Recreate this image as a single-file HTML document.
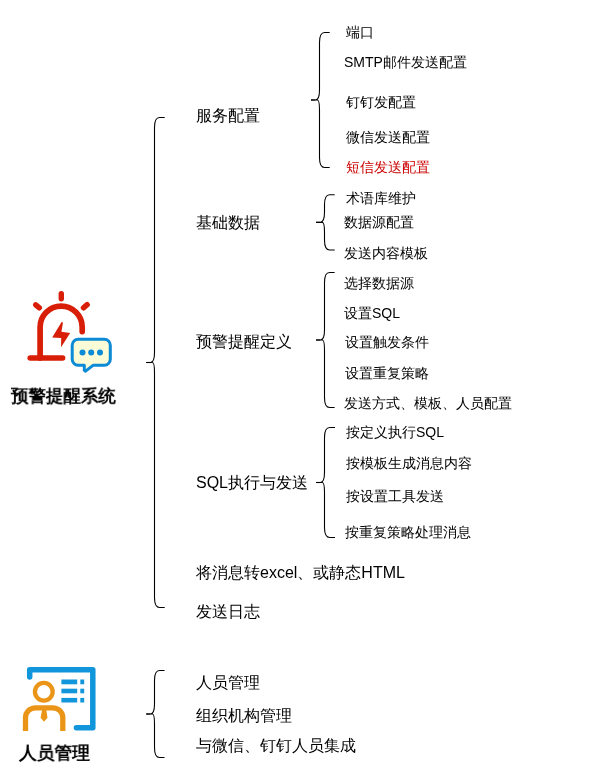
<!DOCTYPE html>
<html><head><meta charset="utf-8"><style>
html,body{margin:0;padding:0;background:#fff;width:608px;height:771px;overflow:hidden}
body{position:relative;font-family:"Liberation Sans",sans-serif}
.t{position:absolute;white-space:nowrap;will-change:transform}
svg{position:absolute;left:0;top:0}
</style></head><body>
<svg width="608" height="771" viewBox="0 0 608 771">
<g fill="none" stroke="#000" stroke-width="1.1">
<path d="M164.7,117.5 L159.6,117.5 Q154.5,117.5 154.5,127.5 L154.5,352.5 Q154.5,362.5 150.35,362.5 L146.2,362.5 L152.425,362.5 Q154.5,362.5 154.5,372.5 L154.5,597.5 Q154.5,607.5 159.6,607.5 L164.7,607.5"/><path d="M146.2,362.5 L150.35,362.5"/>
<path d="M329.7,32.5 L324.6,32.5 Q319.5,32.5 319.5,42.5 L319.5,90.0 Q319.5,100.0 315.25,100.0 L311.0,100.0 L317.375,100.0 Q319.5,100.0 319.5,110.0 L319.5,157.5 Q319.5,167.5 324.6,167.5 L329.7,167.5"/><path d="M311.0,100.0 L315.25,100.0"/>
<path d="M334.7,194.7 L329.6,194.7 Q324.5,194.7 324.5,204.7 L324.5,212.35 Q324.5,222.35 320.25,222.35 L316.0,222.35 L322.375,222.35 Q324.5,222.35 324.5,232.35 L324.5,240.0 Q324.5,250.0 329.6,250.0 L334.7,250.0"/><path d="M316.0,222.35 L320.25,222.35"/>
<path d="M334.6,272.5 L329.55,272.5 Q324.5,272.5 324.5,282.5 L324.5,330.0 Q324.5,340.0 320.25,340.0 L316.0,340.0 L322.375,340.0 Q324.5,340.0 324.5,350.0 L324.5,397.5 Q324.5,407.5 329.55,407.5 L334.6,407.5"/><path d="M316.0,340.0 L320.25,340.0"/>
<path d="M335.0,427.5 L329.75,427.5 Q324.5,427.5 324.5,437.5 L324.5,472.5 Q324.5,482.5 320.25,482.5 L316.0,482.5 L322.375,482.5 Q324.5,482.5 324.5,492.5 L324.5,527.5 Q324.5,537.5 329.75,537.5 L335.0,537.5"/><path d="M316.0,482.5 L320.25,482.5"/>
<path d="M164.5,670.5 L159.5,670.5 Q154.5,670.5 154.5,680.5 L154.5,704.0 Q154.5,714.0 150.35,714.0 L146.2,714.0 L152.425,714.0 Q154.5,714.0 154.5,724.0 L154.5,747.5 Q154.5,757.5 159.5,757.5 L164.5,757.5"/><path d="M146.2,714.0 L150.35,714.0"/>
</g>

<g fill="none" stroke="#d81e06" stroke-linecap="round" stroke-width="5.4">
  <line x1="61.3" y1="293.8" x2="61.3" y2="298.7"/>
  <line x1="35.75" y1="304.85" x2="39.35" y2="307.85"/>
  <line x1="87.15" y1="304.65" x2="83.45" y2="307.85"/>
  <path d="M40.1,358 L40.1,327.1 A21.05,21.05 0 0 1 82.2,327.1 L82.2,331.6" stroke-width="5.7"/>
  <line x1="30.2" y1="358" x2="62.6" y2="358" stroke-width="5.6"/>
</g>
<path fill="#d81e06" d="M61.6,322.0 L63.0,322.6 L61.4,331.7 L70.2,332.9 L61,347.2 L61.2,338.1 L52.2,337.6 Z"/>
<g>
  <path d="M78.2,339.3 H104.3 A6,6 0 0 1 110.3,345.3 V359.3 A6,6 0 0 1 104.3,365.3 H93 L85.6,371.2 L84.3,370.2 L84.3,365.3 H78.2 A6,6 0 0 1 72.2,359.3 V345.3 A6,6 0 0 1 78.2,339.3 Z" fill="#f9fcd6" stroke="#0b8ad6" stroke-width="3" stroke-linejoin="round"/>
  <circle cx="82.5" cy="352.4" r="3" fill="#0b8ad6"/>
  <circle cx="91.2" cy="352.4" r="3" fill="#0b8ad6"/>
  <circle cx="100" cy="352.4" r="3" fill="#0b8ad6"/>
</g>


<g fill="none" stroke="#1296db" stroke-width="5.5" stroke-linecap="round" stroke-linejoin="round">
  <path d="M29.7,677 V669.7 H92.8 V727.8 H76.4"/>
</g>
<g fill="#1296db">
  <rect x="61.4" y="679.5" width="15.8" height="4.8"/>
  <rect x="80.3" y="679.5" width="3.9" height="4.8"/>
  <rect x="61.4" y="688.7" width="15.8" height="4.6"/>
  <rect x="80.3" y="688.7" width="3.9" height="4.6"/>
  <rect x="61.4" y="697.9" width="15.8" height="4.6"/>
  <rect x="80.3" y="697.9" width="3.9" height="4.6"/>
</g>
<circle cx="43.8" cy="691.8" r="8.85" fill="none" stroke="#ea9518" stroke-width="4.3"/>
<path d="M25.5,731 V717.8 A10,10 0 0 1 35.5,707.8 H52.8 A10,10 0 0 1 62.8,717.8 V731" fill="none" stroke="#ea9518" stroke-width="5.3"/>
<path d="M42.2,709.5 H46.2 L47.5,717.7 L44,721.8 L40.6,717.7 Z" fill="#ea9518"/>

</svg>
<div class="t" style="left:196px;top:104.5px;font-size:16px;line-height:22px;color:#000;font-weight:normal;">服务配置</div>
<div class="t" style="left:196px;top:212.1px;font-size:16px;line-height:22px;color:#000;font-weight:normal;">基础数据</div>
<div class="t" style="left:196px;top:330.5px;font-size:16px;line-height:22px;color:#000;font-weight:normal;">预警提醒定义</div>
<div class="t" style="left:196px;top:471.5px;font-size:16px;line-height:22px;color:#000;font-weight:normal;">SQL执行与发送</div>
<div class="t" style="left:196px;top:562.0px;font-size:16px;line-height:22px;color:#000;font-weight:normal;">将消息转excel、或静态HTML</div>
<div class="t" style="left:196px;top:601.4px;font-size:16px;line-height:22px;color:#000;font-weight:normal;">发送日志</div>
<div class="t" style="left:196px;top:672.1px;font-size:16px;line-height:22px;color:#000;font-weight:normal;">人员管理</div>
<div class="t" style="left:196px;top:704.5px;font-size:16px;line-height:22px;color:#000;font-weight:normal;">组织机构管理</div>
<div class="t" style="left:196px;top:735.2px;font-size:16px;line-height:22px;color:#000;font-weight:normal;">与微信、钉钉人员集成</div>
<div class="t" style="left:346px;top:22.1px;font-size:14px;line-height:20px;color:#000;font-weight:normal;">端口</div>
<div class="t" style="left:343.5px;top:52.0px;font-size:14px;line-height:20px;color:#000;font-weight:normal;">SMTP邮件发送配置</div>
<div class="t" style="left:346px;top:92.0px;font-size:14px;line-height:20px;color:#000;font-weight:normal;">钉钉发配置</div>
<div class="t" style="left:346px;top:127.0px;font-size:14px;line-height:20px;color:#000;font-weight:normal;">微信发送配置</div>
<div class="t" style="left:345.5px;top:156.9px;font-size:14px;line-height:20px;color:#cc0000;font-weight:normal;">短信发送配置</div>
<div class="t" style="left:345.5px;top:187.6px;font-size:14px;line-height:20px;color:#000;font-weight:normal;">术语库维护</div>
<div class="t" style="left:343.5px;top:212.2px;font-size:14px;line-height:20px;color:#000;font-weight:normal;">数据源配置</div>
<div class="t" style="left:344px;top:243.1px;font-size:14px;line-height:20px;color:#000;font-weight:normal;">发送内容模板</div>
<div class="t" style="left:344px;top:272.6px;font-size:14px;line-height:20px;color:#000;font-weight:normal;">选择数据源</div>
<div class="t" style="left:344px;top:303.0px;font-size:14px;line-height:20px;color:#000;font-weight:normal;">设置SQL</div>
<div class="t" style="left:344.5px;top:332.1px;font-size:14px;line-height:20px;color:#000;font-weight:normal;">设置触发条件</div>
<div class="t" style="left:344.5px;top:362.6px;font-size:14px;line-height:20px;color:#000;font-weight:normal;">设置重复策略</div>
<div class="t" style="left:344px;top:393.1px;font-size:14px;line-height:20px;color:#000;font-weight:normal;">发送方式、模板、人员配置</div>
<div class="t" style="left:346px;top:422.1px;font-size:14px;line-height:20px;color:#000;font-weight:normal;">按定义执行SQL</div>
<div class="t" style="left:346px;top:453.1px;font-size:14px;line-height:20px;color:#000;font-weight:normal;">按模板生成消息内容</div>
<div class="t" style="left:346px;top:486.4px;font-size:14px;line-height:20px;color:#000;font-weight:normal;">按设置工具发送</div>
<div class="t" style="left:344.5px;top:522.4px;font-size:14px;line-height:20px;color:#000;font-weight:normal;">按重复策略处理消息</div>
<div class="t" style="left:10.5px;top:384.2px;font-size:18px;line-height:24px;color:#000;font-weight:bold;transform:scale(0.97);transform-origin:0 50%">预警提醒系统</div>
<div class="t" style="left:19.3px;top:740.8px;font-size:18px;line-height:24px;color:#000;font-weight:bold;transform:scale(0.985);transform-origin:0 50%">人员管理</div>
</body></html>
